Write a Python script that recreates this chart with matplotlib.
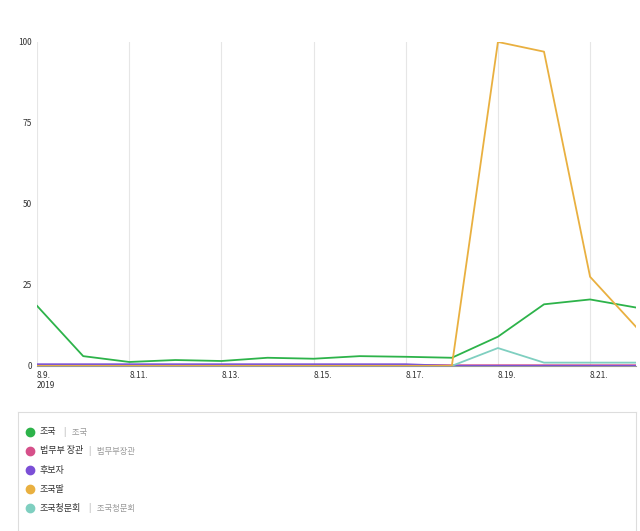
import matplotlib
matplotlib.use("Agg")
import matplotlib.pyplot as plt
plt.rcParams['font.family'] = ['Noto Sans CJK KR', 'DejaVu Sans']

days = list(range(9, 23))
tick_days = [9, 11, 13, 15, 17, 19, 21]
tick_labels = ['8.9.\n2019', '8.11.', '8.13.', '8.15.', '8.17.', '8.19.', '8.21.']
jo = [18.5, 3, 1.2, 1.8, 1.5, 2.5, 2.2, 3, 2.8, 2.5, 9, 19, 20.5, 18]
minister = [0.3]*9 + [0.2, 0.2, 0.2, 0.2, 0.2]
candidate = [0.5]*9 + [0, 0, 0, 0, 0]
daughter = [0]*10 + [100, 97, 27.5, 12]
hearing = [0]*10 + [5.5, 1, 1, 1]

names = ['조국', '법무부 장관', '후보자', '조국딸', '조국청문회']
subs = ['조국', '법무부장관', None, None, '조국청문회']
colors = ['#2db34a', '#d6508a', '#7b4fd6', '#e9b040', '#7fcfc0']

fig = plt.figure(figsize=(6.4, 5.31), dpi=100)
ax = fig.add_axes([0.058, 0.311, 0.936, 0.61])
for s, c in zip([minister, candidate, hearing, jo, daughter], [colors[1], colors[2], colors[4], colors[0], colors[3]]):
    ax.plot(days, s, color=c, lw=1.3)
ax.set_xlim(9, 22)
ax.set_ylim(0, 100)
ax.set_yticks([0, 25, 50, 75, 100])
ax.set_xticks(tick_days)
ax.set_xticklabels(tick_labels)
for t in ax.get_xticklabels():
    t.set_horizontalalignment('left')
ax.tick_params(labelsize=6, length=0, colors='#333333')
ax.xaxis.grid(True, color='#e6e6e6', lw=0.8)
for sp in ['top', 'right', 'left']:
    ax.spines[sp].set_visible(False)
ax.spines['bottom'].set_color('#999999')

lax = fig.add_axes([0.028, 0.0, 0.966, 0.225])
lax.set_xticks([]); lax.set_yticks([])
for sp in lax.spines.values():
    sp.set_color('#dddddd')
lax.set_xlim(0, 1); lax.set_ylim(0, 1)
for i, (n, sb, c) in enumerate(zip(names, subs, colors)):
    y = 0.83 - i * 0.16
    lax.plot([0.02], [y], 'o', color=c, ms=6)
    lax.text(0.035, y, n, fontsize=6.5, va='center', color='#333333')
    if sb:
        off = 0.035 + 0.0135 * len(n.replace(' ', '')) + 0.012
        lax.text(off, y, '|   ' + sb, fontsize=6, va='center', color='#999999')
fig.savefig('out.png', dpi=100, facecolor='white')
